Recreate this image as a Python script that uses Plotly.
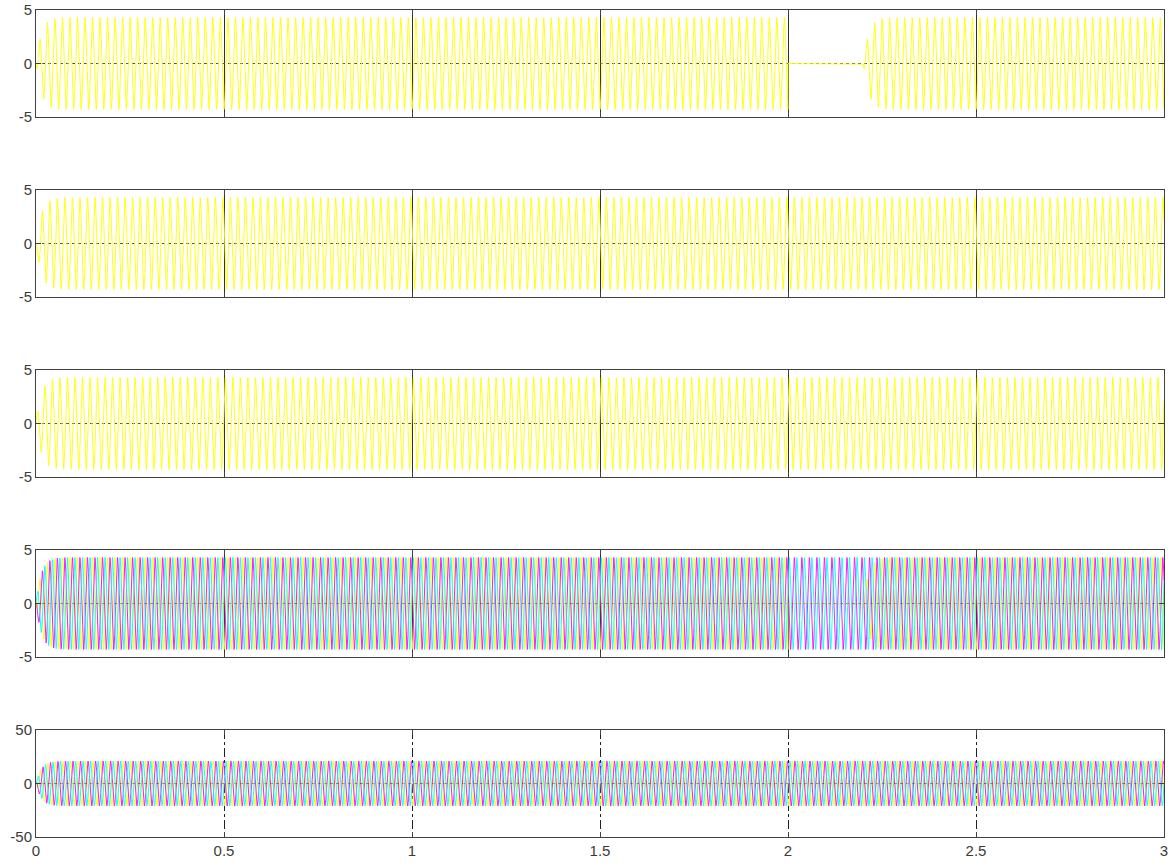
import numpy as np
import plotly.graph_objects as go

# ---- values ----
T_END = 3.0                 # seconds shown on the x axis
DT = 2e-4                   # sample step of the recorded signals
FREQ_HZ = 50.0              # ~7.5 px per cycle -> 50 Hz
VOLT_AMP = 4.3              # peak of panels 1-4
CURR_AMP = 21.0             # peak of panel 5
PHASE_SHIFTS = [0.0, -2 * np.pi / 3, 2 * np.pi / 3]   # phases a, b, c
CURR_PHASE_OFFSET = -0.5    # current lags voltage (rad)
ENVELOPE_TAU = 0.0136       # start-up time constant (s)
GAP_START = 2.0             # phase a drops out
GAP_END = 2.2               # phase a comes back
PHASE_COLORS = ["#FFFF00", "#FF00FF", "#00FFFF"]

X_TICKS = [0, 0.5, 1, 1.5, 2, 2.5, 3]
X_TICK_TEXT = ["0", "0.5", "1", "1.5", "2", "2.5", "3"]
V_TICKS = [-5, 0, 5]
V_TICK_TEXT = ["-5", "0", "5"]
I_TICKS = [-50, 0, 50]
I_TICK_TEXT = ["-50", "0", "50"]

# ---- build the recorded signals ----
t = np.arange(0, T_END + DT / 2, DT)
w = 2 * np.pi * FREQ_HZ
env = 1 - np.exp(-t / ENVELOPE_TAU)


def phase_wave(amp, shift, gap=False):
    y = -amp * env * np.cos(w * t + shift)
    if gap:
        tr = t - GAP_END
        env2 = 1 - np.exp(-np.clip(tr, 0, None) / ENVELOPE_TAU)
        y = np.where(t < GAP_START, y,
                     np.where(t < GAP_END, 0.0,
                              -amp * env2 * np.cos(w * t + shift)))
    return np.round(y, 3)


va = phase_wave(VOLT_AMP, PHASE_SHIFTS[0], gap=True)
vb = phase_wave(VOLT_AMP, PHASE_SHIFTS[1])
vc = phase_wave(VOLT_AMP, PHASE_SHIFTS[2])
ia = phase_wave(CURR_AMP, PHASE_SHIFTS[0] + CURR_PHASE_OFFSET)
ib = phase_wave(CURR_AMP, PHASE_SHIFTS[1] + CURR_PHASE_OFFSET)
ic = phase_wave(CURR_AMP, PHASE_SHIFTS[2] + CURR_PHASE_OFFSET)

panels = [
    [(va, PHASE_COLORS[0])],
    [(vb, PHASE_COLORS[0])],
    [(vc, PHASE_COLORS[0])],
    [(va, PHASE_COLORS[0]), (vb, PHASE_COLORS[1]), (vc, PHASE_COLORS[2])],
    [(ia, PHASE_COLORS[0]), (ib, PHASE_COLORS[1]), (ic, PHASE_COLORS[2])],
]

# ---- figure layout (pixels) ----
W, H = 1168, 866
ML, MR, MT, MB = 36, 4, 10, 29
PH = H - MT - MB
AX = "#404040"
FONT = dict(family="Liberation Sans, Arial, sans-serif", size=15, color="#3d3a36")

fig = go.Figure()
layout = dict(
    width=W, height=H, margin=dict(l=ML, r=MR, t=MT, b=MB, autoexpand=False),
    paper_bgcolor="white", plot_bgcolor="white", showlegend=False,
    font=FONT,
)

for k, traces in enumerate(panels):
    n = k + 1
    xa = "x" if n == 1 else f"x{n}"
    ya = "y" if n == 1 else f"y{n}"
    for y, col in traces:
        fig.add_trace(go.Scatter(
            x0=0, dx=DT, y=y, mode="lines", xaxis=xa, yaxis=ya,
            line=dict(color=col, width=0.9), hoverinfo="skip",
        ))
    top_px = 10 + 180 * k
    bot_px = 117 + 180 * k
    dom = [(H - MB - bot_px) / PH, (H - MB - top_px) / PH]
    last = (n == len(panels))
    layout["xaxis" if n == 1 else f"xaxis{n}"] = dict(
        domain=[0, 1], anchor=ya, range=[0, T_END],
        tickvals=X_TICKS, ticktext=X_TICK_TEXT, showticklabels=last,
        ticks="inside", ticklen=5, tickcolor=AX,
        showline=True, mirror="ticks", linecolor=AX, linewidth=1,
        showgrid=True, gridcolor="#303030" if not last else "#202020",
        griddash="solid" if not last else "dashdot", gridwidth=1,
        zeroline=False, tickfont=FONT, automargin=False,
        ticklabeloverflow="allow",
    )
    if last:
        yv, yt, yr = I_TICKS, I_TICK_TEXT, [-50, 50]
    else:
        yv, yt, yr = V_TICKS, V_TICK_TEXT, [-5, 5]
    layout["yaxis" if n == 1 else f"yaxis{n}"] = dict(
        domain=dom, anchor=xa, range=yr,
        tickvals=yv, ticktext=yt,
        ticks="inside", ticklen=5, tickcolor=AX,
        showline=True, mirror="ticks", linecolor=AX, linewidth=1,
        showgrid=True, gridcolor="#505050", griddash="dot", gridwidth=1,
        zeroline=False, tickfont=FONT, automargin=False,
        ticklabeloverflow="allow",
    )

fig.update_layout(**layout)
fig.write_html(
    "out.html",
    config={"displayModeBar": False},
    post_script="document.body.style.margin='0';document.body.style.overflow='hidden';",
)
